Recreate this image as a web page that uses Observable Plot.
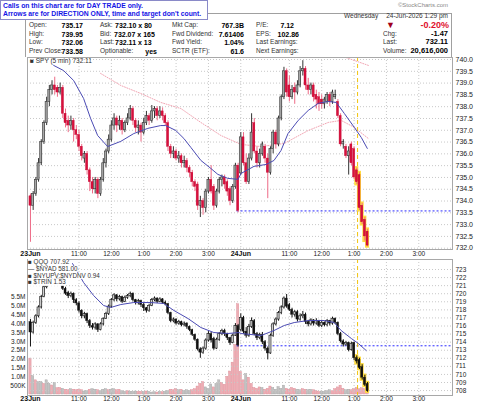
<!DOCTYPE html>
<html><head><meta charset="utf-8">
<script src="https://cdn.jsdelivr.net/npm/d3@7"></script>
<script src="https://cdn.jsdelivr.net/npm/@observablehq/plot@0.6"></script>
<style>
body{margin:0;background:#fff;}
#root{position:relative;width:480px;height:406px;overflow:hidden;font-family:"Liberation Sans",Arial,sans-serif;background:#fff;}
#root svg{position:absolute;left:0;top:0;display:block;}
#root svg text{white-space:pre;}
.t{position:absolute;white-space:nowrap;line-height:1;}
#notice{position:absolute;left:0;top:0;width:208px;height:20px;box-sizing:border-box;border:1px solid #8a8ac8;background:#fff;
  color:#1414e6;font-weight:bold;font-size:6.8px;line-height:8.8px;padding:0.5px 0 0 2px;white-space:nowrap;}
</style></head><body><div id="root"></div><script>
// ---------- data ----------
const dateIdx = [0, 78];
const dateLabels = ["23Jun", "24Jun"];
const hourIdx = [18, 30, 42, 54, 66, 96, 108, 120, 132, 144];
const hourLabels = ["11:00", "12:00", "1:00", "2:00", "3:00", "11:00", "12:00", "1:00", "2:00", "3:00"];
const spyTicks = [732, 732.5, 733, 733.5, 734, 734.5, 735, 735.5, 736, 736.5, 737, 737.5, 738, 738.5, 739, 739.5, 740];
const qqqTicks = [708, 709, 710, 711, 712, 713, 714, 715, 716, 717, 718, 719, 720, 721, 722, 723];
const volTicks = [0.5, 1, 1.5, 2, 2.5, 3, 3.5, 4, 4.5, 5, 5.5];
const volLabels = ["500K", "1.0M", "1.5M", "2.0M", "2.5M", "3.0M", "3.5M", "4.0M", "4.5M", "5.0M", "5.5M"];
const signalIdx = [121.3];
const spyPrevClose = [733.58];
const qqqPrevClose = [713.55];
const highlightFrom = 121;

const spyOpen = [734.2,733.8,734.3,734.9,735.6,736.5,737.3,738.2,738.7,738.9,738.8,738.6,738.8,737.7,737.4,737.2,737.4,737.0,736.8,736.3,735.8,736.0,735.3,734.8,734.5,734.9,734.3,734.9,735.6,736.1,736.6,737.2,737.5,737.2,737.4,737.0,737.3,737.5,737.9,737.4,737.1,737.2,736.9,737.3,737.6,737.4,737.8,737.9,737.6,737.8,737.6,737.3,736.3,736.0,736.1,735.8,735.9,735.6,735.7,735.4,735.2,734.8,734.7,733.8,734.0,733.7,734.4,734.9,734.6,733.8,734.4,734.9,735.0,734.8,734.5,734.0,734.6,735.5,
735.17,736.7,735.6,734.8,735.8,737.3,736.1,735.6,736.0,736.3,735.8,735.2,736.2,736.9,736.4,737.5,738.4,739.5,738.9,738.4,738.8,738.6,738.9,739.5,739.6,738.9,738.7,738.9,738.5,738.4,738.3,738.1,738.2,738.5,738.2,738.4,738.2,737.6,736.4,736.3,735.9,736.4,736.2,735.3,735.1,733.8,733.2,732.7];
const spyHigh = [734.3,734.4,735.0,735.8,736.6,737.4,738.4,738.9,739.1,739.25,738.9,739.0,738.9,737.9,737.6,737.6,737.5,737.2,737.0,736.4,736.1,736.1,735.4,735.0,735.0,735.0,735.0,735.8,736.2,736.8,737.4,737.7,737.6,737.6,737.5,737.4,737.7,738.05,738.0,737.5,737.4,737.3,737.5,737.8,737.7,738.05,738.0,738.0,738.0,737.95,737.7,737.4,736.4,736.3,736.2,736.1,736.0,735.9,735.8,735.5,735.3,734.9,734.8,734.2,734.1,734.5,735.0,735.5,734.7,734.5,735.0,735.1,735.1,734.9,734.6,734.7,735.6,735.6,
736.9,736.9,736.0,736.0,737.7,737.5,736.3,736.2,736.5,736.4,736.0,736.3,737.0,737.0,737.6,738.5,739.67,739.6,739.3,738.9,739.0,739.1,739.7,739.95,739.7,739.2,739.0,739.0,738.7,738.6,738.5,738.4,738.6,738.6,738.7,738.7,738.3,737.7,736.6,736.4,736.3,736.5,736.3,735.4,735.2,733.9,733.3,732.8];
const spyLow = [732.25,733.6,734.2,734.8,735.5,736.4,737.2,738.0,738.5,738.5,738.4,738.5,737.5,737.1,736.9,737.0,736.5,736.6,736.1,735.7,735.6,735.1,734.4,734.3,734.3,734.1,734.2,734.8,735.4,736.0,736.5,737.0,736.9,737.0,736.8,736.9,737.2,737.4,737.2,736.9,736.8,736.5,736.8,737.2,737.2,737.3,737.5,737.4,737.5,737.4,737.2,736.1,735.8,735.8,735.7,735.6,735.4,735.4,735.2,735.0,734.6,734.4,733.6,733.3,733.4,733.5,734.3,734.3,733.6,733.7,734.3,734.6,734.5,734.2,733.8,733.9,734.5,733.5,
735.1,735.5,734.7,734.7,735.7,736.0,735.4,735.4,735.9,735.6,734.1,735.1,736.0,736.2,736.3,737.4,738.3,738.4,738.2,738.3,738.1,738.5,738.8,739.3,738.7,738.5,738.5,738.2,737.9,737.8,737.9,737.9,738.1,738.0,738.1,738.3,737.5,736.3,736.2,735.8,735.1,735.5,734.9,734.7,733.6,733.0,732.3,732.06];
const spyClose = [733.8,734.3,734.9,735.6,736.5,737.3,738.2,738.7,738.9,738.7,738.6,738.8,737.7,737.3,737.2,737.4,737.0,736.8,736.3,735.9,736.0,735.3,734.8,734.5,734.9,734.3,734.9,735.6,736.1,736.6,737.2,737.5,737.2,737.4,737.0,737.3,737.5,737.9,737.4,737.1,737.2,736.9,737.3,737.6,737.4,737.8,737.9,737.6,737.8,737.6,737.3,736.3,736.0,736.1,735.8,735.9,735.6,735.7,735.4,735.2,734.8,734.6,733.8,734.0,733.7,734.4,734.9,734.4,733.8,734.4,734.9,735.0,734.7,734.4,734.0,734.6,735.5,733.58,
736.7,735.6,734.8,735.8,736.9,736.1,735.6,736.0,736.4,735.8,735.2,736.2,736.9,736.4,737.5,738.4,739.5,738.6,738.4,738.7,738.6,738.9,739.5,739.6,738.9,738.7,738.9,738.4,738.3,738.1,738.1,738.3,738.5,738.2,738.6,738.5,737.6,736.4,736.5,735.9,736.1,735.6,735.0,734.8,733.7,733.1,732.5,732.11];

const qqqOpen = [716.5,715.2,716.4,717.2,718.3,719.6,720.8,721.6,722.0,722.2,721.9,721.6,721.8,720.6,720.1,719.7,720.0,719.2,718.8,717.9,717.2,717.5,716.6,716.0,715.8,716.2,715.5,716.2,716.9,717.5,718.4,719.2,719.8,719.3,719.6,719.0,719.5,719.7,720.0,719.2,718.9,719.1,718.6,718.2,717.9,718.5,719.2,719.4,719.0,719.3,718.9,718.7,717.6,716.6,716.8,716.3,716.5,716.1,716.3,715.9,715.5,714.9,714.3,713.1,712.7,713.2,714.2,715.0,714.4,713.2,714.3,715.0,715.4,715.0,714.5,713.9,714.8,716.0,
715.5,717.0,715.3,714.8,715.9,716.6,715.0,714.5,714.9,714.0,713.2,712.6,714.8,716.2,716.8,717.6,718.3,719.4,718.6,718.0,717.4,717.7,716.8,717.2,717.4,716.5,716.2,716.7,716.3,716.6,716.0,716.4,716.1,716.6,716.3,716.9,716.4,715.0,714.1,713.7,713.9,713.0,713.9,712.0,711.8,710.9,709.6,708.8];
const qqqHigh = [716.8,716.6,717.4,718.5,719.8,721.0,721.9,722.3,722.5,722.6,722.1,722.0,721.9,720.8,720.3,720.2,720.1,719.4,719.0,718.0,717.7,717.6,716.8,716.3,716.4,716.3,716.4,717.0,717.7,718.6,719.4,720.0,719.9,719.8,719.7,719.7,719.9,720.2,720.1,719.3,719.3,719.2,718.8,718.3,718.7,719.4,719.6,719.5,719.5,719.4,719.1,718.8,717.7,717.0,716.9,716.7,716.6,716.5,716.4,716.0,715.6,715.0,714.4,713.3,713.4,714.4,715.3,715.2,714.6,714.5,715.2,715.6,715.6,715.1,714.6,715.0,716.3,716.2,
717.5,717.2,715.8,716.2,717.0,716.8,715.2,715.1,715.2,714.2,713.4,715.0,716.4,717.0,717.8,718.5,719.6,719.9,718.8,718.2,717.9,717.9,717.5,717.8,717.6,716.7,716.9,716.8,716.9,716.7,716.6,716.5,716.8,716.7,717.1,717.0,716.5,715.2,714.3,714.1,714.0,714.0,714.0,712.3,712.0,711.2,709.9,709.0];
const qqqLow = [713.4,715.0,716.2,717.0,718.1,719.5,720.6,721.4,721.8,721.7,721.3,721.4,720.4,719.8,719.4,719.5,718.8,718.5,717.6,716.9,716.9,716.3,715.7,715.5,715.5,715.2,715.4,716.0,716.8,717.3,718.2,719.0,719.0,719.1,718.8,718.9,719.3,719.5,719.0,718.6,718.6,718.3,717.8,717.6,717.7,718.4,719.0,718.8,718.9,718.7,718.5,717.4,716.4,716.4,716.1,716.1,715.9,715.9,715.6,715.3,714.7,714.1,712.9,712.0,712.5,713.0,714.0,713.9,713.0,713.1,714.1,714.8,714.7,714.2,713.6,713.8,714.7,713.4,
715.3,715.0,714.5,714.6,715.7,714.8,714.2,714.3,713.7,712.9,711.8,712.5,714.6,716.0,716.6,717.4,718.1,718.2,717.8,717.0,717.1,716.5,716.6,716.9,716.2,715.9,716.0,716.0,716.1,715.8,715.8,715.9,715.9,716.0,716.1,716.2,714.8,713.9,713.4,713.5,712.8,712.9,711.7,711.3,710.6,709.3,708.5,707.8];
const qqqClose = [715.2,716.4,717.2,718.3,719.6,720.8,721.6,722.0,722.2,721.9,721.6,721.8,720.6,720.0,719.7,720.0,719.2,718.8,717.9,717.2,717.5,716.6,716.0,715.8,716.2,715.5,716.2,716.9,717.5,718.4,719.2,719.8,719.3,719.6,719.0,719.5,719.7,720.0,719.2,718.9,719.1,718.6,718.2,717.9,718.5,719.2,719.4,719.0,719.3,718.9,718.7,717.6,716.6,716.8,716.3,716.5,716.1,716.3,715.9,715.5,714.9,714.3,713.1,712.7,713.2,714.2,715.0,714.2,713.2,714.3,715.0,715.4,715.0,714.5,713.9,714.8,716.0,713.6,
717.0,715.3,714.8,715.9,716.6,715.0,714.5,714.9,714.0,713.2,712.6,714.8,716.2,716.8,717.6,718.3,719.4,718.4,718.0,717.4,717.7,716.8,717.2,717.4,716.5,716.2,716.7,716.3,716.6,716.0,716.4,716.1,716.6,716.3,716.9,716.4,715.0,714.1,713.7,713.9,713.0,713.8,712.0,711.6,710.8,709.6,708.7,707.92];

const volume = [2.03,1.04,0.80,0.70,0.70,0.60,0.80,0.60,0.51,0.65,0.36,0.37,0.32,0.27,0.24,0.30,0.27,0.24,0.27,0.24,0.17,0.19,0.27,0.30,0.27,0.24,0.19,0.27,0.30,0.24,0.27,0.30,0.24,0.27,0.19,0.15,0.19,0.15,0.15,0.17,0.15,0.15,0.15,0.17,0.15,0.11,0.13,0.11,0.15,0.13,0.15,0.19,0.27,0.24,0.30,0.24,0.27,0.19,0.24,0.21,0.24,0.30,0.45,0.60,0.70,0.40,0.32,0.57,0.40,0.60,0.80,0.65,0.55,1.00,1.30,1.80,2.80,5.10,
1.27,0.80,1.15,0.95,0.60,0.37,0.32,0.40,0.37,0.27,0.32,0.45,0.37,0.27,0.42,0.32,0.50,0.32,0.27,0.37,0.32,0.27,0.24,0.30,0.27,0.24,0.27,0.24,0.19,0.15,0.17,0.15,0.19,0.24,0.19,0.30,0.40,0.50,0.32,0.24,0.27,0.24,0.30,0.37,0.30,0.35,0.30,0.28];
const volumeDir = "pgpggpggpgppgppgppppggpggpgggpggppggpgggppgpgggpgpggpppgpgggpppppgggpggpppppppp" + "pgpppppgpppgggggppppggppggpppggggpppppggpppppppp";

const spyMaIdx = [8.6,12.3,16.0,19.7,22.3,24.9,28.6,33.5,38.3,43.5,48.3,50.2,53.9,56.9,59.5,63.2,66.9,69.5,73.2,77.0,78.1,82.9,87.4,90.3,92.9,95.5,99.3,103.0,106.7,110.4,113.4,116.4,120.1,122.7,124.9];
const spyMaVal = [739.75,739.53,739.11,738.35,737.50,736.78,736.31,736.53,736.86,737.08,737.20,737.20,736.99,736.65,736.27,735.72,735.38,735.13,734.96,734.92,735.17,735.47,735.55,735.72,736.14,736.86,737.42,737.84,738.14,738.22,738.18,737.71,737.12,736.69,736.23];
const spyMa2Idx = [26.0,33.5,40.9,48.3,55.8,63.2,70.6,78.1,85.5,94.1,103.0,110.4,115.2,120.1,125.3];
const spyMa2Val = [739.41,738.90,738.56,738.18,737.92,737.33,736.78,736.40,736.31,736.44,736.99,737.33,737.42,737.12,736.65];
const spyMa3Idx = [117.1, 125.3];
const spyMa3Val = [740.08, 739.75];
const qqqMaIdx = [15.6,19.7,23.4,27.1,29.7,33.5,38.3,44.6,49.4,53.2,58.4,63.2,68.0,73.2,77.3,78.1,85.5,90.3,94.1,97.8,103.0,108.9,112.6,115.2,119.0,121.6,124.5];
const qqqMaVal = [723.74,721.39,719.78,718.54,718.29,718.66,718.91,718.91,718.79,717.92,716.93,715.81,715.19,715.07,715.19,715.07,714.82,715.44,716.06,716.43,716.68,716.68,716.43,715.44,714.45,713.83,712.96];

// ---------- build rows ----------
const spy = spyClose.map((c, i) => ({i, o: spyOpen[i], h: spyHigh[i], l: spyLow[i], c, up: c >= spyOpen[i]}));
const qqq = qqqClose.map((c, i) => ({i, o: qqqOpen[i], h: qqqHigh[i], l: qqqLow[i], c, up: c >= qqqOpen[i]}));
const vol = volume.map((v, i) => ({i, v, dn: volumeDir[i] === "p"}));
const spyMa = spyMaIdx.map((i, k) => ({i, v: spyMaVal[k]}));
const spyMa2 = spyMa2Idx.map((i, k) => ({i, v: spyMa2Val[k]}));
const spyMa3 = spyMa3Idx.map((i, k) => ({i, v: spyMa3Val[k]}));
const qqqMa = qqqMaIdx.map((i, k) => ({i, v: qqqMaVal[k]}));

const xDomain = [-1.1, 156.5];
const FONT = "Liberation Sans, Arial, sans-serif";
const root = document.getElementById("root");
const hw = 0.38;

function grids(yTicks) {
  return [
    Plot.gridY(yTicks, {stroke: "#c8c8c8", strokeOpacity: 1, strokeDasharray: "1,2"}),
    Plot.gridX(hourIdx.concat([78]), {stroke: "#c8c8c8", strokeOpacity: 1, strokeDasharray: "1,2"})
  ];
}
function xLabels(dy) {
  return [
    Plot.text(dateIdx, {x: d => d, text: (d, k) => dateLabels[k], frameAnchor: "bottom", dy, fontWeight: "bold", fontSize: 7, fill: "#111"}),
    Plot.text(hourIdx, {x: d => d, text: (d, k) => hourLabels[k], frameAnchor: "bottom", dy, fontSize: 6.5, fill: "#222"})
  ];
}
function candleMarks(rows, c) {
  const ups = rows.filter(d => d.up), dns = rows.filter(d => !d.up);
  return [
    Plot.rect(rows.filter(d => d.i >= highlightFrom), {x1: d => d.i - 0.75, x2: d => d.i + 0.75, y1: d => d.l - c.pad, y2: d => d.h + c.pad, fill: "#ffdc40"}),
    Plot.ruleX(ups, {x: "i", y1: "l", y2: "h", stroke: c.upWick, strokeWidth: 1}),
    Plot.ruleX(dns, {x: "i", y1: "l", y2: "h", stroke: c.dnWick, strokeWidth: 1}),
    Plot.rect(ups, {x1: d => d.i - hw, x2: d => d.i + hw, y1: "o", y2: "c", fill: c.upFill, stroke: c.upStroke, strokeWidth: 0.6}),
    Plot.rect(dns, {x1: d => d.i - hw, x2: d => d.i + hw, y1: "o", y2: "c", fill: c.dnFill, stroke: c.dnStroke, strokeWidth: 0.4})
  ];
}
function mount(svg) {
  svg.querySelectorAll("style").forEach(s => s.remove());
  root.appendChild(svg);
}

// ---------- top panel: SPY ----------
mount(Plot.plot({
  width: 480, height: 262, marginTop: 57, marginBottom: 13, marginLeft: 27, marginRight: 28,
  x: {domain: xDomain, axis: null},
  y: {domain: [731.945, 740.085]},
  style: {background: "transparent", fontFamily: FONT, overflow: "visible"},
  marks: [
    ...grids(spyTicks),
    Plot.axisY(spyTicks, {anchor: "right", tickSize: 0, tickPadding: 3, tickFormat: d => d.toFixed(1), fontSize: 7, fill: "#222"}),
    Plot.line(spyMa2, {x: "i", y: "v", stroke: "#f2a6b4", strokeWidth: 1, strokeDasharray: "1,1.5", clip: true}),
    Plot.line(spyMa3, {x: "i", y: "v", stroke: "#f2a6b4", strokeWidth: 1, strokeDasharray: "1,1.5", clip: true}),
    Plot.ruleY(spyPrevClose, {x1: 76.6, x2: 156.5, stroke: "#2b2bff", strokeWidth: 1, strokeDasharray: "2,2"}),
    Plot.ruleX(signalIdx, {stroke: "#f2c40c", strokeWidth: 1, strokeDasharray: "4,3"}),
    ...candleMarks(spy, {upWick: "#333", dnWick: "#ee6a86", upFill: "#a8a8a8", upStroke: "#333", dnFill: "#d8103c", dnStroke: "#c00030", pad: 0.06}),
    Plot.line(spyMa, {x: "i", y: "v", stroke: "#4b4bb4", strokeWidth: 1}),
    Plot.frame({stroke: "#a8a8a8"}),
    ...xLabels(6.5)
  ]
}));

// ---------- bottom panel: volume (left axis) ----------
mount(Plot.plot({
  width: 480, height: 406, marginTop: 259, marginBottom: 11, marginLeft: 27, marginRight: 28,
  x: {domain: xDomain, axis: null},
  y: {domain: [-0.057, 7.63]},
  style: {background: "transparent", fontFamily: FONT, overflow: "visible"},
  marks: [
    Plot.axisY(volTicks, {anchor: "left", tickSize: 0, tickPadding: 2, tickFormat: d => volLabels[volTicks.indexOf(d)], fontSize: 6.5, fill: "#222"}),
    Plot.rect(vol.filter(d => d.dn), {x1: d => d.i - 0.42, x2: d => d.i + 0.42, y1: d => 0, y2: "v", fill: "#eeadb4", stroke: "#dc8d97", strokeWidth: 0.4}),
    Plot.rect(vol.filter(d => !d.dn), {x1: d => d.i - 0.42, x2: d => d.i + 0.42, y1: d => 0, y2: "v", fill: "#c2c2c2", stroke: "#a3a3a3", strokeWidth: 0.4})
  ]
}));

// ---------- bottom panel: QQQ (right axis) ----------
mount(Plot.plot({
  width: 480, height: 406, marginTop: 259, marginBottom: 11, marginLeft: 27, marginRight: 28,
  x: {domain: xDomain, axis: null},
  y: {domain: [707.39, 724.24]},
  style: {background: "transparent", fontFamily: FONT, overflow: "visible"},
  marks: [
    ...grids(qqqTicks),
    Plot.axisY(qqqTicks, {anchor: "right", tickSize: 0, tickPadding: 3, fontSize: 6.5, fill: "#222"}),
    Plot.ruleY(qqqPrevClose, {x1: 76.6, x2: 156.5, stroke: "#2b2bff", strokeWidth: 1, strokeDasharray: "2,2"}),
    Plot.ruleX(signalIdx, {stroke: "#f2c40c", strokeWidth: 1, strokeDasharray: "4,3"}),
    ...candleMarks(qqq, {upWick: "#111", dnWick: "#111", upFill: "#d0d0d0", upStroke: "#111", dnFill: "#111", dnStroke: "#111", pad: 0.15}),
    Plot.line(qqqMa, {x: "i", y: "v", stroke: "#4b4bb4", strokeWidth: 1, clip: true}),
    Plot.frame({stroke: "#a8a8a8"}),
    ...xLabels(5.5)
  ]
}));

// ---------- header / text overlays ----------
function put(txt, x, y, o = {}) {
  const d = document.createElement("div");
  d.className = "t";
  d.textContent = txt;
  d.style.left = x + "px";
  d.style.top = y + "px";
  d.style.fontSize = (o.s || 7) + "px";
  d.style.fontWeight = o.w || "normal";
  d.style.color = o.c || "#222";
  if (o.bg) d.style.background = o.bg;
  d.style.transform = (o.a === "r" ? "translateX(-100%) " : "") + "translateY(-50%)";
  root.appendChild(d);
  return d;
}
function box(x, y, w, h, css) {
  const d = document.createElement("div");
  d.style.position = "absolute";
  d.style.left = x + "px"; d.style.top = y + "px";
  d.style.width = w + "px"; d.style.height = h + "px";
  Object.assign(d.style, css);
  root.appendChild(d);
  return d;
}
// info box border
box(25, 13, 427, 44, {borderTop: "1px solid #a0a0a0", borderLeft: "1px solid #a0a0a0", borderRight: "1px solid #a0a0a0", boxSizing: "border-box"});
// blue notice box (one text block, two lines)
const notice = document.createElement("div");
notice.id = "notice";
notice.innerHTML = "Calls on this chart are for DAY TRADE only.<br>Arrows are for DIRECTION ONLY, time and target don't count.";
root.appendChild(notice);
put("\u00a9StockCharts.com", 448, 5, {s: 6, c: "#888", a: "r"});

const L = {s: 6.5, c: "#333"}, V = {s: 7, w: "bold", c: "#000", a: "r"}, VL = {s: 7, w: "bold", c: "#000"};
const rows = [25, 33.5, 42, 51];
put("Open:", 29, rows[0], L); put("735.17", 83, rows[0], V);
put("High:", 29, rows[1], L); put("739.95", 83, rows[1], V);
put("Low:", 29, rows[2], L); put("732.06", 83, rows[2], V);
put("Prev Close:", 29, rows[3], L); put("733.58", 83, rows[3], V);
put("Ask:", 100, rows[0], L); put("732.10 x 80", 115, rows[0], VL);
put("Bid:", 100, rows[1], L); put("732.07 x 165", 114, rows[1], VL);
put("Last:", 100, rows[2], L); put("732.11 x 13", 115, rows[2], VL);
put("Optionable:", 100, rows[3], L); put("yes", 157, rows[3], V);
put("Mkt Cap:", 172, rows[0], L); put("767.3B", 244, rows[0], V);
put("Fwd Dividend:", 172, rows[1], L); put("7.61406", 244, rows[1], V);
put("Fwd Yield:", 172, rows[2], L); put("1.04%", 244, rows[2], V);
put("SCTR (ETF):", 172, rows[3], L); put("61.6", 244, rows[3], V);
put("P/E:", 256, rows[0], L); put("7.12", 294, rows[0], V);
put("EPS:", 256, rows[1], L); put("102.86", 299, rows[1], V);
put("Last Earnings:", 256, rows[2], L);
put("Next Earnings:", 256, rows[3], L);
put("Wednesday", 344, 16, L); put("24-Jun-2026  1:29 pm", 448, 16, {s: 6.5, c: "#333", a: "r"});
put("\u25bc", 386, rows[0], {s: 9, c: "#a0001c"});
put("-0.20%", 449, rows[0], {s: 9, w: "bold", c: "#e0102c", a: "r"});
put("Chg:", 383, rows[1], L); put("-1.47", 448, rows[1], {s: 7.5, w: "bold", c: "#000", a: "r"});
put("Last:", 383, rows[2], L); put("732.11", 448, rows[2], {s: 7.5, w: "bold", c: "#000", a: "r"});
put("Volume:", 383, rows[3], L); put("20,616,000", 448, rows[3], {s: 7.5, w: "bold", c: "#000", a: "r"});

// panel legends
put("\u25a0 SPY (5 min) 732.11", 30, 61, {s: 6.5, c: "#333"});
const lg = {s: 6.3, c: "#333", bg: "#fff"};
put("\u25a0 QQQ 707.92", 28, 262, lg);
put("\u2014 $NYAD 581.00", 28, 268.8, lg);
put("\u25a0 $NYUPV:$NYDNV 0.94", 28, 275.6, lg);
put("\u25a0 $TRIN 1.53", 28, 282.4, lg);
</script></body></html>
